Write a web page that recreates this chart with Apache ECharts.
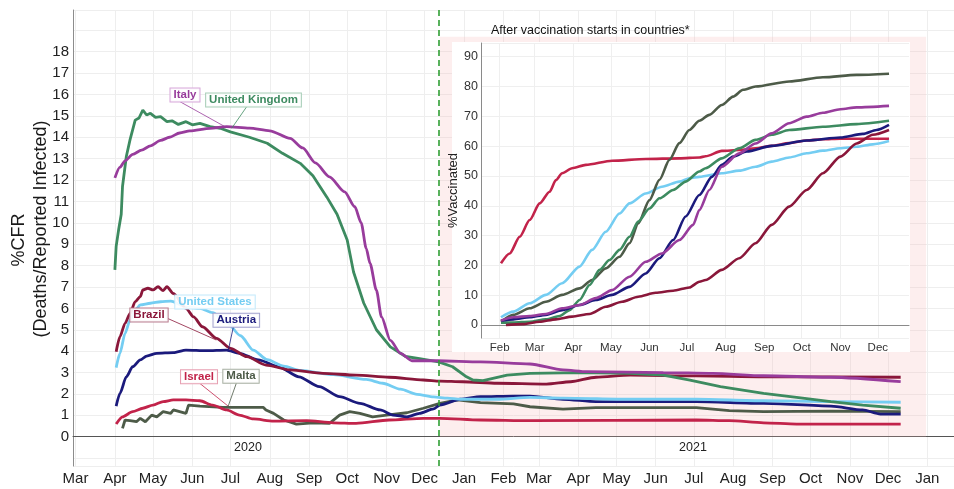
<!DOCTYPE html>
<html><head><meta charset="utf-8">
<script src="https://cdn.jsdelivr.net/npm/echarts@6/dist/echarts.min.js"></script>
<style>html,body{margin:0;padding:0;background:#fff}#c{width:954px;height:489px}</style>
</head><body><div id="c"></div>
<script>
// ---------- DATA: main chart, %CFR ----------
const cfrItaly = [['2020-04-01',12.1],['2020-04-05',12.6],['2020-04-09',12.9],['2020-04-15',13.2],['2020-04-22',13.4],['2020-04-29',13.6],['2020-05-07',13.85],['2020-05-14',14.0],['2020-05-22',14.2],['2020-05-30',14.3],['2020-06-15',14.42],['2020-06-28',14.5],['2020-07-16',14.43],['2020-08-01',14.3],['2020-08-17',13.95],['2020-08-27',13.5],['2020-09-06',12.8],['2020-09-17',12.15],['2020-09-29',11.45],['2020-10-07',10.75],['2020-10-12',10.0],['2020-10-16',8.8],['2020-10-19',8.1],['2020-10-24',6.85],['2020-10-28',5.6],['2020-11-04',4.5],['2020-11-12',3.9],['2020-11-21',3.55],['2020-12-11',3.55],['2021-01-14',3.5],['2021-02-22',3.4],['2021-03-20',3.12],['2021-04-08',3.04],['2021-06-07',3.0],['2021-07-16',2.96],['2021-08-25',2.85],['2021-10-17',2.78],['2021-12-11',2.57]];
const cfrUK = [['2020-04-01',7.8],['2020-04-02',8.9],['2020-04-04',9.7],['2020-04-06',10.4],['2020-04-07',11.7],['2020-04-10',13.1],['2020-04-13',13.9],['2020-04-17',14.8],['2020-04-20',14.9],['2020-04-23',15.27],['2020-04-26',15.04],['2020-04-29',15.12],['2020-05-03',14.93],['2020-05-07',14.96],['2020-05-12',14.73],['2020-05-16',14.77],['2020-05-21',14.6],['2020-05-27',14.73],['2020-06-01',14.58],['2020-06-07',14.65],['2020-06-15',14.5],['2020-06-23',14.42],['2020-07-01',14.25],['2020-07-16',14.0],['2020-07-30',13.72],['2020-08-11',13.25],['2020-08-25',12.78],['2020-09-04',12.2],['2020-09-15',11.2],['2020-09-23',10.4],['2020-10-01',9.2],['2020-10-06',7.7],['2020-10-14',6.25],['2020-10-24',5.0],['2020-11-04',4.2],['2020-11-16',3.75],['2020-11-27',3.65],['2020-12-12',3.5],['2020-12-23',3.27],['2021-01-03',2.8],['2021-01-08',2.65],['2021-01-16',2.62],['2021-02-04',2.88],['2021-02-22',2.96],['2021-04-02',3.0],['2021-05-12',2.96],['2021-06-07',2.88],['2021-06-28',2.65],['2021-07-22',2.34],['2021-08-25',2.03],['2021-09-20',1.84],['2021-10-17',1.64],['2021-11-11',1.48],['2021-12-11',1.33]];
const cfrUS = [['2020-04-02',3.23],['2020-04-05',3.9],['2020-04-09',4.83],['2020-04-13',5.46],['2020-04-17',5.92],['2020-04-21',6.16],['2020-04-29',6.24],['2020-05-07',6.31],['2020-05-15',6.34],['2020-05-28',6.05],['2020-06-07',6.0],['2020-06-17',5.8],['2020-06-28',5.35],['2020-07-09',4.72],['2020-07-19',4.05],['2020-07-30',3.6],['2020-08-12',3.3],['2020-08-25',3.1],['2020-09-20',2.9],['2020-10-16',2.68],['2020-10-29',2.5],['2020-11-12',2.22],['2020-11-25',1.98],['2020-12-08',1.86],['2020-12-19',1.8],['2020-12-29',1.75],['2021-01-27',1.75],['2021-02-22',1.84],['2021-03-20',1.8],['2021-05-12',1.75],['2021-07-03',1.75],['2021-08-25',1.68],['2021-10-17',1.64],['2021-12-11',1.61]];
const cfrBrazil = [['2020-04-02',3.97],['2020-04-05',4.68],['2020-04-09',5.3],['2020-04-13',5.77],['2020-04-17',6.31],['2020-04-21',6.55],['2020-04-23',6.86],['2020-04-27',6.94],['2020-05-01',6.86],['2020-05-05',7.01],['2020-05-09',6.83],['2020-05-12',7.01],['2020-05-17',6.7],['2020-05-27',6.0],['2020-06-02',5.6],['2020-06-09',5.14],['2020-06-20',4.6],['2020-07-01',4.13],['2020-07-14',3.74],['2020-07-29',3.35],['2020-08-17',3.12],['2020-09-12',2.96],['2020-10-08',2.88],['2020-11-03',2.78],['2020-11-30',2.65],['2020-12-13',2.6],['2020-12-31',2.57],['2021-01-27',2.5],['2021-03-07',2.46],['2021-03-26',2.57],['2021-04-15',2.78],['2021-05-12',2.88],['2021-07-03',2.84],['2021-08-25',2.8],['2021-12-11',2.78]];
const cfrAustria = [['2020-04-02',1.43],['2020-04-05',2.03],['2020-04-10',2.8],['2020-04-15',3.27],['2020-04-21',3.59],['2020-04-26',3.77],['2020-05-04',3.9],['2020-05-17',3.93],['2020-05-27',4.05],['2020-06-12',4.02],['2020-06-28',4.05],['2020-07-08',3.9],['2020-07-23',3.59],['2020-08-08',3.27],['2020-08-24',2.8],['2020-09-09',2.34],['2020-09-25',1.87],['2020-10-11',1.56],['2020-10-27',1.25],['2020-11-06',1.01],['2020-11-17',0.93],['2020-11-27',1.09],['2020-12-08',1.3],['2020-12-13',1.48],['2020-12-29',1.75],['2021-01-14',1.87],['2021-02-09',1.9],['2021-02-22',1.9],['2021-03-20',1.75],['2021-04-15',1.64],['2021-07-03',1.64],['2021-08-25',1.56],['2021-10-17',1.43],['2021-11-11',1.25],['2021-11-25',1.06],['2021-12-11',1.06]];
const cfrIsrael = [['2020-04-02',0.59],['2020-04-07',0.93],['2020-04-15',1.17],['2020-04-23',1.33],['2020-05-01',1.48],['2020-05-09',1.64],['2020-05-17',1.72],['2020-05-27',1.72],['2020-06-07',1.68],['2020-06-17',1.48],['2020-06-28',1.25],['2020-07-08',1.01],['2020-07-19',0.83],['2020-08-04',0.73],['2020-08-30',0.75],['2020-09-20',0.65],['2020-10-08',0.62],['2020-11-03',0.78],['2020-11-30',0.86],['2020-12-13',0.86],['2021-01-14',0.78],['2021-02-22',0.75],['2021-07-03',0.78],['2021-07-29',0.75],['2021-08-25',0.65],['2021-09-20',0.59],['2021-12-11',0.59]];
const cfrMalta = [['2020-04-07',0.39],['2020-04-09',0.78],['2020-04-13',0.75],['2020-04-18',0.7],['2020-04-21',0.86],['2020-04-25',0.7],['2020-04-30',1.01],['2020-05-04',0.93],['2020-05-09',1.17],['2020-05-15',1.09],['2020-05-17',1.25],['2020-05-27',1.09],['2020-05-29',1.48],['2020-06-07',1.43],['2020-06-25',1.37],['2020-07-27',1.37],['2020-07-29',1.25],['2020-08-04',1.09],['2020-08-12',0.78],['2020-08-22',0.59],['2020-09-04',0.65],['2020-09-17',0.62],['2020-09-25',1.01],['2020-10-03',1.17],['2020-10-11',1.09],['2020-10-21',0.93],['2020-11-01',1.01],['2020-11-17',1.12],['2020-11-30',1.33],['2020-12-13',1.56],['2020-12-27',1.72],['2021-01-14',1.59],['2021-02-09',1.53],['2021-02-22',1.4],['2021-03-20',1.29],['2021-04-15',1.36],['2021-07-03',1.36],['2021-07-29',1.22],['2021-08-25',1.17],['2021-10-17',1.2],['2021-12-11',1.17]];

// ---------- DATA: inset, %Vaccinated ----------
const vacIsrael = [['2021-02-02',20.7],['2021-02-09',24],['2021-02-17',29.6],['2021-02-25',35.2],['2021-03-05',40.8],['2021-03-13',44.7],['2021-03-18',48.6],['2021-03-23',50.9],['2021-03-31',52.6],['2021-04-11',53.7],['2021-05-02',55.1],['2021-05-29',55.7],['2021-06-25',55.9],['2021-07-11',56.2],['2021-07-16',56.6],['2021-07-29',58.4],['2021-08-12',58.7],['2021-08-25',59.3],['2021-09-07',60.1],['2021-09-21',61.0],['2021-10-05',61.9],['2021-10-18',62.3],['2021-11-01',62.5],['2021-12-10',62.5]];
const vacUS = [['2021-02-02',2.6],['2021-02-12',4.5],['2021-02-25',7.3],['2021-03-10',10.1],['2021-03-23',14.0],['2021-04-06',19.6],['2021-04-16',25.2],['2021-04-27',31.3],['2021-05-08',37.4],['2021-05-16',40.8],['2021-05-29',44.1],['2021-06-11',46.4],['2021-06-25',48.1],['2021-07-03',49.2],['2021-07-11',49.7],['2021-07-29',50.9],['2021-08-12',51.8],['2021-08-25',53.1],['2021-09-07',54.8],['2021-09-21',56.2],['2021-10-05',57.6],['2021-10-18',58.5],['2021-11-01',59.3],['2021-11-14',59.8],['2021-11-27',60.6],['2021-12-10',61.7]];
const vacMalta = [['2021-02-02',1.1],['2021-02-12',3.4],['2021-02-25',5.6],['2021-03-10',7.8],['2021-03-23',10.1],['2021-04-06',12.3],['2021-04-16',15.1],['2021-04-27',19.0],['2021-05-08',22.9],['2021-05-16',27.4],['2021-05-23',34.1],['2021-06-01',41.9],['2021-06-09',48.7],['2021-06-17',55.4],['2021-06-25',61.0],['2021-07-03',65.4],['2021-07-11',68.5],['2021-07-19',70.5],['2021-07-29',73.8],['2021-08-07',76.6],['2021-08-15',78.9],['2021-08-25',80.0],['2021-09-21',81.7],['2021-10-18',83.1],['2021-11-14',83.9],['2021-12-10',84.3]];
const vacUK = [['2021-02-02',0.8],['2021-02-12',0.8],['2021-02-25',1.1],['2021-03-10',1.9],['2021-03-21',3.0],['2021-03-29',5.0],['2021-04-06',8.4],['2021-04-14',13.4],['2021-04-22',18.5],['2021-04-30',21.8],['2021-05-08',25.2],['2021-05-16',29.6],['2021-05-23',34.7],['2021-06-01',39.1],['2021-06-09',42.5],['2021-06-20',45.3],['2021-06-30',48.1],['2021-07-11',51.5],['2021-07-16',52.6],['2021-07-29',55.9],['2021-08-12',59.3],['2021-08-25',62.1],['2021-09-07',63.8],['2021-09-21',65.4],['2021-10-18',66.5],['2021-11-14',67.4],['2021-12-10',68.5]];
const vacAustria = [['2021-02-02',1.5],['2021-02-12',1.9],['2021-02-25',2.6],['2021-03-10',3.4],['2021-03-23',5.0],['2021-04-06',6.7],['2021-04-19',8.4],['2021-05-02',10.1],['2021-05-16',12.8],['2021-05-29',17.3],['2021-06-09',22.4],['2021-06-20',28.5],['2021-06-30',36.4],['2021-07-11',43.6],['2021-07-21',49.7],['2021-07-29',53.7],['2021-08-07',56.5],['2021-08-18',58.2],['2021-09-07',60.1],['2021-10-05',61.9],['2021-11-01',62.9],['2021-11-19',64.1],['2021-11-30',65.4],['2021-12-10',67.1]];
const vacItaly = [['2021-02-02',1.5],['2021-02-12',2.6],['2021-02-25',3.0],['2021-03-10',3.7],['2021-03-23',5.6],['2021-04-06',6.7],['2021-04-19',9.0],['2021-05-02',11.7],['2021-05-16',16.2],['2021-05-29',21.2],['2021-06-11',24.0],['2021-06-25',28.5],['2021-07-06',33.6],['2021-07-11',38.6],['2021-07-19',45.3],['2021-07-29',53.1],['2021-08-12',57.6],['2021-08-25',60.9],['2021-09-07',64.3],['2021-09-21',67.7],['2021-10-05',69.9],['2021-10-18',71.2],['2021-11-01',72.4],['2021-11-14',73.0],['2021-12-10',73.5]];
const vacBrazil = [['2021-02-06',0.0],['2021-02-19',0.3],['2021-03-05',1.1],['2021-03-18',1.9],['2021-03-31',2.8],['2021-04-14',3.7],['2021-04-27',6.1],['2021-05-10',7.8],['2021-05-23',9.5],['2021-06-06',10.8],['2021-06-20',11.5],['2021-07-03',12.6],['2021-07-11',14.5],['2021-07-16',15.1],['2021-07-29',18.5],['2021-08-12',22.4],['2021-08-25',27.4],['2021-09-07',33.6],['2021-09-21',39.7],['2021-10-05',45.3],['2021-10-18',50.9],['2021-11-01',56.5],['2021-11-14',60.9],['2021-11-27',63.8],['2021-12-10',65.4]];

// ---------- axis ranges / labels ----------
const mainRange = ['2020-02-28', '2022-01-22'];
const insetRange = ['2021-01-17', '2021-12-26'];
const vaccinationStart = '2020-12-12';
const shadeRange = ['2020-12-13', '2021-12-31'];
const monthNames = ['Jan','Feb','Mar','Apr','May','Jun','Jul','Aug','Sep','Oct','Nov','Dec'];
const cfrTicks = [0,1,2,3,4,5,6,7,8,9,10,11,12,13,14,15,16,17,18];
const vacTicks = [0,10,20,30,40,50,60,70,80,90];
const yearLabels = ['2020', '2021'];

// ---------- styling ----------
const FONT = '"Liberation Sans", Arial, Helvetica, sans-serif';
const colors = {
  Italy: '#983c9c', UK: '#3d8b60', US: '#74cdf2', Brazil: '#8a173a',
  Austria: '#1b1a7c', Israel: '#c2234a', Malta: '#4d5b48'
};
const borders = {
  Italy: '#d8a8da', UK: '#a9cfb9', US: '#c4eafb', Brazil: '#b97d8f',
  Austria: '#a4a3cf', Israel: '#e7a0b2', Malta: '#a8b0a3'
};

function dayRange(a, b) {
  const out = [];
  let t = Date.parse(a + 'T00:00:00Z');
  const e = Date.parse(b + 'T00:00:00Z');
  while (t <= e) { out.push(new Date(t).toISOString().slice(0, 10)); t += 86400000; }
  return out;
}
const mainDays = dayRange(mainRange[0], mainRange[1]);
const insetDays = dayRange(insetRange[0], insetRange[1]);
const isMonthStart = (i, v) => v.slice(8) === '01';
const monthLabel = v => monthNames[parseInt(v.slice(5, 7), 10) - 1];
const tickFmt = ticks => v => {
  const r = Math.round(v);
  return (Math.abs(v - r) < 1e-6 && ticks.indexOf(r) >= 0) ? String(r) : '';
};

function mainLine(name, data, key, smooth) {
  return {
    name, type: 'line', xAxisIndex: 0, yAxisIndex: 0, data,
    showSymbol: false, symbol: 'none', smooth: smooth ? 0.25 : false, smoothMonotone: 'x',
    lineStyle: { color: colors[key], width: 2.8 }, itemStyle: { color: colors[key] },
    z: 2, silent: true
  };
}
function insetLine(name, data, key) {
  return {
    name, type: 'line', xAxisIndex: 1, yAxisIndex: 1, data,
    showSymbol: false, symbol: 'none', smooth: 0.25, smoothMonotone: 'x',
    lineStyle: { color: colors[key], width: 2.6 }, itemStyle: { color: colors[key] },
    z: 6, silent: true
  };
}

function boxLabel(text, cx, cy, key) {
  return {
    type: 'text', x: cx, y: cy, z: 30, silent: true,
    style: {
      text, fill: colors[key], font: 'bold 11.5px ' + FONT, align: 'center', verticalAlign: 'middle',
      backgroundColor: 'rgba(255,255,255,0.9)', borderColor: borders[key], borderWidth: 1,
      padding: [1, 3, 0, 3]
    }
  };
}
function leader(x1, y1, x2, y2, key) {
  return { type: 'line', z: 29, silent: true, shape: { x1, y1, x2, y2 }, style: { stroke: colors[key], lineWidth: 0.8 } };
}

const chart = echarts.init(document.getElementById('c'), null, { renderer: 'canvas' });
chart.setOption({
  animation: false,
  backgroundColor: '#ffffff',
  grid: [
    { left: 73, right: 0, top: 10, bottom: 23 },
    { left: 481, right: 45, top: 43, bottom: 151 }
  ],
  xAxis: [
    {
      gridIndex: 0, type: 'category', data: mainDays, boundaryGap: false,
      axisLine: { show: true, lineStyle: { color: '#555', width: 1 } },
      axisTick: { show: false },
      axisLabel: { interval: isMonthStart, formatter: monthLabel, fontSize: 15, fontFamily: FONT, color: '#222', margin: 5 },
      splitLine: { show: true, interval: isMonthStart, lineStyle: { color: '#eeeeee', width: 1 } }
    },
    {
      gridIndex: 1, type: 'category', data: insetDays, boundaryGap: false, z: 5,
      axisLine: { show: true, lineStyle: { color: '#8a8a8a', width: 1 } },
      axisTick: { show: false },
      axisLabel: { interval: isMonthStart, formatter: monthLabel, fontSize: 11.5, fontFamily: FONT, color: '#333', margin: 4 },
      splitLine: { show: true, interval: isMonthStart, lineStyle: { color: '#efefef', width: 1 } }
    }
  ],
  yAxis: [
    {
      gridIndex: 0, type: 'value', min: -1.37, max: 19.95, splitNumber: 20,
      axisLine: { show: true, lineStyle: { color: '#8c8c8c', width: 1 } },
      axisTick: { show: false },
      axisLabel: { formatter: tickFmt(cfrTicks), fontSize: 15, fontFamily: FONT, color: '#222', margin: 4, showMinLabel: false, showMaxLabel: false },
      splitLine: { show: true, lineStyle: { color: '#eeeeee', width: 1 } }
    },
    {
      gridIndex: 1, type: 'value', min: -4.36, max: 94.6, splitNumber: 10, z: 5,
      name: '%Vaccinated', nameLocation: 'middle', nameGap: 12,
      nameTextStyle: { fontSize: 13, fontFamily: FONT, color: '#222' },
      axisLine: { show: true, lineStyle: { color: '#8a8a8a', width: 1 } },
      axisTick: { show: false },
      axisLabel: { formatter: tickFmt(vacTicks), fontSize: 12.5, fontFamily: FONT, color: '#333', margin: 3, showMinLabel: false, showMaxLabel: false },
      splitLine: { show: true, lineStyle: { color: '#efefef', width: 1 } }
    }
  ],
  series: [
    {
      name: 'shade', type: 'line', xAxisIndex: 0, yAxisIndex: 0, data: [], z: 1, silent: true,
      markArea: {
        silent: true,
        itemStyle: { color: 'rgba(246,185,185,0.24)' },
        data: [[{ xAxis: shadeRange[0], yAxis: 0 }, { xAxis: shadeRange[1], yAxis: 18.7 }]]
      },
      markLine: {
        silent: true, symbol: ['none', 'none'], label: { show: false },
        lineStyle: { color: '#2f9e34', type: [6, 4], width: 1.6 },
        data: [{ xAxis: vaccinationStart }]
      }
    },
    mainLine('Malta', cfrMalta, 'Malta', false),
    mainLine('Israel', cfrIsrael, 'Israel', true),
    mainLine('Austria', cfrAustria, 'Austria', true),
    mainLine('United States', cfrUS, 'US', true),
    mainLine('Brazil', cfrBrazil, 'Brazil', true),
    mainLine('United Kingdom', cfrUK, 'UK', false),
    mainLine('Italy', cfrItaly, 'Italy', true),
    insetLine('Israel', vacIsrael, 'Israel'),
    insetLine('United States', vacUS, 'US'),
    insetLine('Malta', vacMalta, 'Malta'),
    insetLine('United Kingdom', vacUK, 'UK'),
    insetLine('Austria', vacAustria, 'Austria'),
    insetLine('Italy', vacItaly, 'Italy'),
    insetLine('Brazil', vacBrazil, 'Brazil')
  ],
  graphic: {
    elements: [
      { type: 'rect', z: 3, silent: true, shape: { x: 452, y: 42, width: 458, height: 310 }, style: { fill: '#ffffff' } },
      { type: 'text', z: 6, silent: true, x: 491, y: 31, style: { text: 'After vaccination starts in countries*', font: '12.5px ' + FONT, fill: '#111', align: 'left', verticalAlign: 'middle' } },
      { type: 'text', z: 6, silent: true, x: 248, y: 448, style: { text: yearLabels[0], font: '12.5px ' + FONT, fill: '#222', align: 'center', verticalAlign: 'middle' } },
      { type: 'text', z: 6, silent: true, x: 693, y: 448, style: { text: yearLabels[1], font: '12.5px ' + FONT, fill: '#222', align: 'center', verticalAlign: 'middle' } },
      { type: 'text', z: 6, silent: true, x: 19, y: 240, rotation: Math.PI / 2, style: { text: '%CFR', font: '18px ' + FONT, fill: '#1a1a1a', align: 'center', verticalAlign: 'middle' } },
      { type: 'text', z: 6, silent: true, x: 41, y: 229, rotation: Math.PI / 2, style: { text: '(Deaths/Reported Infected)', font: '18px ' + FONT, fill: '#1a1a1a', align: 'center', verticalAlign: 'middle' } },
      leader(180, 101.7, 225, 126.7, 'Italy'),
      leader(246.7, 106.7, 231.7, 128.3, 'UK'),
      leader(166.7, 318, 216.3, 340, 'Brazil'),
      leader(233.3, 327.3, 228.3, 350, 'Austria'),
      leader(199.7, 383.3, 228, 406, 'Israel'),
      leader(236.3, 383.3, 228, 406.7, 'Malta'),
      boxLabel('Italy', 185, 95, 'Italy'),
      boxLabel('United Kingdom', 253.5, 100, 'UK'),
      boxLabel('United States', 215, 302, 'US'),
      boxLabel('Brazil', 149, 315, 'Brazil'),
      boxLabel('Austria', 236.3, 320.3, 'Austria'),
      boxLabel('Israel', 199, 376.7, 'Israel'),
      boxLabel('Malta', 241, 376.3, 'Malta')
    ]
  }
});
</script></body></html>
